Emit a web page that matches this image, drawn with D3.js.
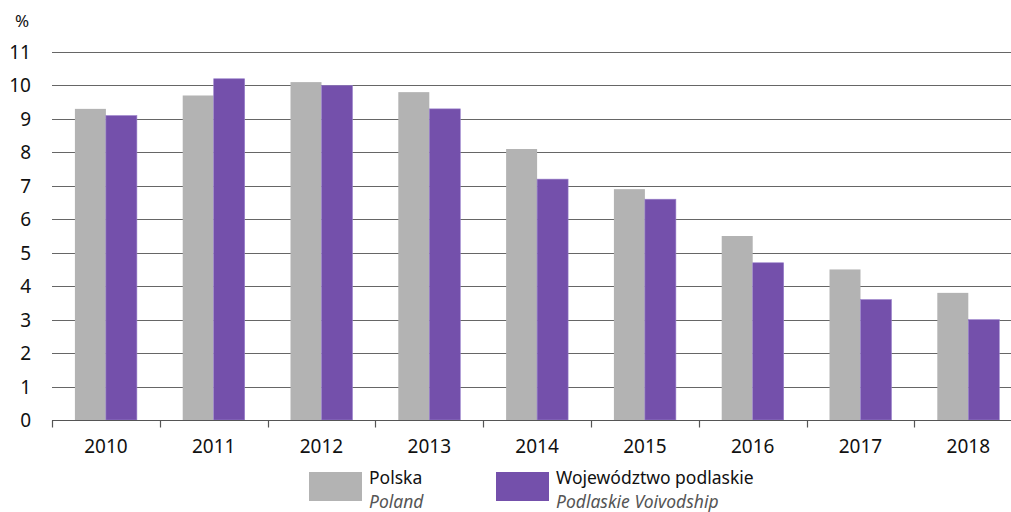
<!DOCTYPE html>
<html>
<head>
<meta charset="utf-8">
<script src="https://cdn.jsdelivr.net/npm/d3@7"></script>
<style>
  body { margin: 0; background: #fff; }
  svg { display: block; font-family: 'Noto Sans', sans-serif; }
</style>
</head>
<body>
<div class="svg-container"></div>
<script>
// chart data
const years = ['2010', '2011', '2012', '2013', '2014', '2015', '2016', '2017', '2018'];
const polska = [9.3, 9.7, 10.1, 9.8, 8.1, 6.9, 5.5, 4.5, 3.8];
const podlaskie = [9.1, 10.2, 10.0, 9.3, 7.2, 6.6, 4.7, 3.6, 3.0];
const yTicks = [0, 1, 2, 3, 4, 5, 6, 7, 8, 9, 10, 11];

const seriesNames = ['Polska', 'Województwo podlaskie'];
const seriesNamesEn = ['Poland', 'Podlaskie Voivodship'];

const renderChart = () => {
  const width = 1011;
  const height = 512;
  const left = 52;
  const step = 107.8;
  const grey = '#b3b3b3';
  const purple = '#7450ab';

  const svg = d3.select('.svg-container')
    .append('svg')
    .attr('width', width)
    .attr('height', height);

  const x = d3.scaleBand()
    .domain(years)
    .range([left, left + step * years.length])
    .paddingInner(0.425)
    .paddingOuter(0.2125);

  const y = d3.scaleLinear()
    .domain([0, 11])
    .range([420, 52]);

  // gridlines
  svg.append('g')
    .selectAll('line')
    .data(yTicks.filter(d => d > 0))
    .enter()
    .append('line')
    .attr('x1', left)
    .attr('x2', width)
    .attr('y1', d => Math.round(y(d)) + 0.5)
    .attr('y2', d => Math.round(y(d)) + 0.5)
    .attr('stroke', '#666')
    .attr('stroke-width', 1);

  // y labels
  svg.append('g')
    .selectAll('text')
    .data(yTicks)
    .enter()
    .append('text')
    .attr('x', 31)
    .attr('y', d => y(d) + 7)
    .attr('text-anchor', 'end')
    .style('font-size', '19px')
    .style('fill', '#111')
    .text(d => d);

  svg.append('text')
    .attr('x', 22)
    .attr('y', 27)
    .attr('text-anchor', 'middle')
    .style('font-size', '17px')
    .style('fill', '#111')
    .text('%');

  // bars
  const half = x.bandwidth() / 2;
  const bars = svg.append('g');
  bars.selectAll('rect.pl')
    .data(polska)
    .enter()
    .append('rect')
    .attr('class', 'pl')
    .attr('x', (d, i) => x(years[i]))
    .attr('y', d => y(d))
    .attr('width', half)
    .attr('height', d => y(0) - y(d))
    .style('fill', grey);

  bars.selectAll('rect.pd')
    .data(podlaskie)
    .enter()
    .append('rect')
    .attr('class', 'pd')
    .attr('x', (d, i) => x(years[i]) + half)
    .attr('y', d => y(d))
    .attr('width', half)
    .attr('height', d => y(0) - y(d))
    .style('fill', purple)
    .attr('stroke', '#9a82cc')
    .attr('stroke-width', 0.6);

  // x axis
  const axis = svg.append('g').attr('transform', 'translate(0,420.5)');
  axis.append('line')
    .attr('x1', left)
    .attr('x2', width)
    .attr('stroke', '#555')
    .attr('stroke-width', 1.2);
  axis.selectAll('line.tick')
    .data(d3.range(years.length + 1))
    .enter()
    .append('line')
    .attr('class', 'tick')
    .attr('x1', i => Math.round(left + i * step) + 0.5)
    .attr('x2', i => Math.round(left + i * step) + 0.5)
    .attr('y1', 0)
    .attr('y2', 7)
    .attr('stroke', '#555')
    .attr('stroke-width', 1.2);
  axis.selectAll('text')
    .data(years)
    .enter()
    .append('text')
    .attr('x', d => x(d) + half)
    .attr('y', 32)
    .attr('text-anchor', 'middle')
    .style('font-size', '19px')
    .style('fill', '#111')
    .text(d => d);

  // legend
  const legendX = [309, 496];
  const colors = [grey, purple];
  const legend = svg.append('g')
    .selectAll('g')
    .data(seriesNames)
    .enter()
    .append('g')
    .attr('transform', (d, i) => `translate(${legendX[i]},472)`);
  legend.append('rect')
    .attr('width', 53)
    .attr('height', 29)
    .style('fill', (d, i) => colors[i]);
  legend.append('text')
    .attr('x', 60)
    .attr('y', 12)
    .style('font-size', '17.5px')
    .style('fill', '#111')
    .text(d => d);
  legend.append('text')
    .attr('x', 60)
    .attr('y', 36)
    .style('font-size', '17.5px')
    .style('font-style', 'italic')
    .style('fill', '#555')
    .text((d, i) => seriesNamesEn[i]);
};

renderChart();
</script>
</body>
</html>
